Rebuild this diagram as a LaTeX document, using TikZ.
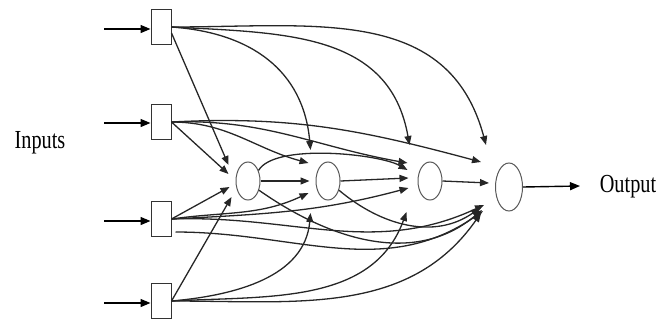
\documentclass[tikz,border=0pt]{standalone}
\usepackage{fontspec}
\setmainfont{Liberation Serif}
\usetikzlibrary{arrows.meta,shapes.geometric}
\begin{document}
\begin{tikzpicture}[x=1pt,y=1pt,
  inbox/.style={draw=black!80,line width=1pt,minimum width=20pt,minimum height=35pt,inner sep=0pt,fill=white},
  hid/.style={ellipse,draw=black!65,line width=1pt,minimum width=24pt,minimum height=38pt,inner sep=0pt},
  outn/.style={ellipse,draw=black!65,line width=1pt,minimum width=27pt,minimum height=48pt,inner sep=0pt},
  conn/.style={line width=1.3pt,black!85,-{Triangle[length=9pt,width=7pt]}},
  bigarr/.style={line width=1.4pt,-{Triangle[length=10pt,width=8pt]}},
  lbl/.style={font=\fontsize{26}{26}\selectfont,inner sep=0pt}
]
\useasboundingbox (0,0) rectangle (661,-322);

% nodes
\node[inbox] (I1) at (161,-27) {};
\node[inbox] (I2) at (161,-122) {};
\node[inbox] (I3) at (161,-219) {};
\node[inbox] (I4) at (161,-301) {};
\node[hid] (H1) at (248,-181) {};
\node[hid] (H2) at (328,-181) {};
\node[hid] (H3) at (430,-181) {};
\node[outn] (O) at (509,-187) {};

\coordinate (s1) at (104,-29);
\coordinate (s2) at (104,-123);
\coordinate (s3) at (104,-221);
\coordinate (s4) at (104,-303);
\coordinate (oe) at (580,-186);

\node[lbl] (tin) at (40,-143) {\scalebox{0.78}[1]{Inputs}};
\node[lbl] (tout) at (628,-187) {\scalebox{0.78}[1]{Output}};

% input and output arrows
\draw[bigarr] (s1) -- (s1 -| I1.west);
\draw[bigarr] (s2) -- (s2 -| I2.west);
\draw[bigarr] (s3) -- (s3 -| I3.west);
\draw[bigarr] (s4) -- (s4 -| I4.west);
\draw[bigarr] (O.east) -- (oe);

% to H1
\draw[conn] ([yshift=-6pt]I1.east) -- ([xshift=-7pt,yshift=16pt]H1.west);
\draw[conn] (I2.east) -- ([xshift=-7pt,yshift=7pt]H1.west);
\draw[conn] (I3.east) -- ([xshift=-6pt,yshift=-6pt]H1.west);
\draw[conn] (I4.east) -- ([xshift=-4pt,yshift=-16pt]H1.west);

% to H2
\draw[conn] (I1.east) to[out=-4,in=95,looseness=1.1] ([xshift=-5pt,yshift=31pt]H2.west);
\draw[conn] (I2.east) to[out=0,in=165] ([xshift=-7pt,yshift=18pt]H2.west);
\draw[conn] (H1.east) -- ([xshift=-6pt]H2.west);
\draw[conn] (I3.east) to[out=8,in=-155] ([xshift=-7pt,yshift=-12pt]H2.west);
\draw[conn] (I4.east) to[out=5,in=-95] ([xshift=-5pt,yshift=-32pt]H2.west);

% to H3
\draw[conn] (I1.east) to[out=-3,in=100,looseness=1.1] ([xshift=-8pt,yshift=36pt]H3.west);
\draw[conn] (I2.east) to[out=2,in=170] ([xshift=-10pt,yshift=18pt]H3.west);
\draw[conn] (H1.45) to[out=60,in=150,looseness=0.55] ([xshift=-10pt,yshift=11pt]H3.west);
\draw[conn] (H2.east) -- ([xshift=-9pt,yshift=3pt]H3.west);
\draw[conn] (I3.east) to[out=3,in=-165] ([xshift=-9pt,yshift=-7pt]H3.west);
\draw[conn] (I4.east) to[out=3,in=-110] ([xshift=-11pt,yshift=-31pt]H3.west);

% to O
\draw[conn] (I1.east) to[out=0,in=105,looseness=1.1] ([xshift=-9pt,yshift=42pt]O.west);
\draw[conn] (I2.east) to[out=3,in=165] ([xshift=-14pt,yshift=25pt]O.west);
\draw[conn] (H3.east) -- ([xshift=-6pt,yshift=4pt]O.west);
\draw[conn] (H1.-40) to[out=-35,in=-140] ([xshift=-13pt,yshift=-23pt]O.west);
\draw[conn] (H2.-40) to[out=-40,in=-145] ([xshift=-15pt,yshift=-21pt]O.west);
\draw[conn] (I3.east) to[out=2,in=-155] ([xshift=-11pt,yshift=-18pt]O.west);
\draw[conn] ([xshift=4pt,yshift=-13pt]I3.east) to[out=0,in=-145] ([xshift=-12pt,yshift=-24pt]O.west);
\draw[conn] (I4.east) to[out=0,in=-125] ([xshift=-14pt,yshift=-26pt]O.west);
\end{tikzpicture}
\end{document}
